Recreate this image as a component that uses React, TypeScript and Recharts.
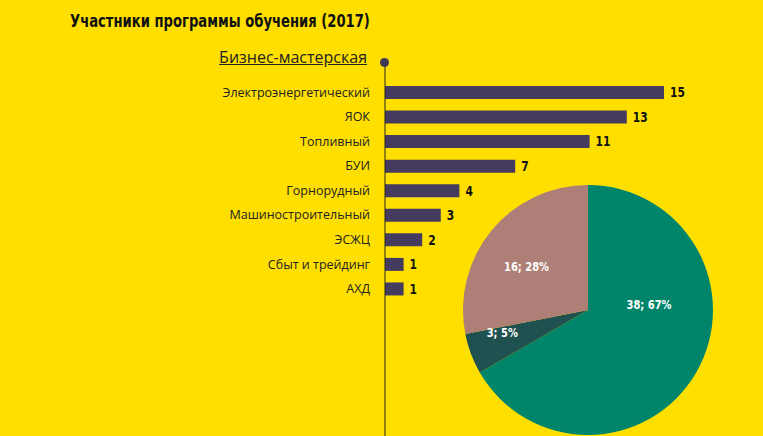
import React from 'react';
import { BarChart, Bar, XAxis, YAxis, LabelList, PieChart, Pie, Cell } from 'recharts';

const divisions = [
  'Электроэнергетический',
  'ЯОК',
  'Топливный',
  'БУИ',
  'Горнорудный',
  'Машиностроительный',
  'ЭСЖЦ',
  'Сбыт и трейдинг',
  'АХД',
];
const participants = [15, 13, 11, 7, 4, 3, 2, 1, 1];

const shareValues = [38, 3, 16];
const shareLabels = ['38; 67%', '3; 5%', '16; 28%'];
const shareColors = ['#00856A', '#1F5151', '#AE7F77'];

const barData = divisions.map((name, i) => ({ name, value: participants[i] }));
const pieData = shareValues.map((value, i) => ({ value, label: shareLabels[i] }));

const BG = '#FFDF00';
const BAR = '#453B5E';
const CONDENSED = '"DejaVu Sans Condensed", sans-serif';

// label placement inside slices: [angle in degrees, distance as fraction of radius]
const labelSpots: [number, number][] = [
  [5, 0.49],
  [-165, 0.71],
  [145, 0.6],
];

const renderPieLabel = (props: any) => {
  const { cx, cy, outerRadius, index } = props;
  const [deg, f] = labelSpots[index];
  const a = (deg * Math.PI) / 180;
  const x = cx + Math.cos(a) * outerRadius * f;
  const y = cy - Math.sin(a) * outerRadius * f;
  return (
    <text
      x={x}
      y={y}
      fill="#fff"
      textAnchor="middle"
      dominantBaseline="central"
      fontFamily={CONDENSED}
      fontWeight="bold"
      fontSize={13}
      transform={`translate(${x} ${y}) scale(0.85 1) translate(${-x} ${-y})`}
    >
      {pieData[index].label}
    </text>
  );
};

const renderValue = (props: any) => {
  const { x, y, width, height, value } = props;
  const tx = x + width + 6;
  const ty = y + height / 2;
  return (
    <text
      x={tx}
      y={ty}
      fill="#111"
      dominantBaseline="central"
      fontFamily={CONDENSED}
      fontWeight="bold"
      fontSize={14}
      transform={`translate(${tx} ${ty}) scale(0.85 1) translate(${-tx} ${-ty})`}
    >
      {value}
    </text>
  );
};

export default function App() {
  return (
    <div
      style={{
        position: 'absolute',
        top: 0,
        left: 0,
        width: 763,
        height: 436,
        background: BG,
        overflow: 'hidden',
      }}
    >
      <div
        style={{
          position: 'absolute',
          left: 70,
          top: 11,
          fontFamily: CONDENSED,
          fontWeight: 'bold',
          fontSize: 17,
          color: '#111',
          whiteSpace: 'nowrap',
          transform: 'scaleX(0.86)',
          transformOrigin: 'left top',
        }}
      >
        Участники программы обучения (2017)
      </div>
      <div
        style={{
          position: 'absolute',
          right: 763 - 367,
          top: 46,
          fontFamily: '"Open Sans", sans-serif',
          fontSize: 16,
          color: '#222',
          textDecoration: 'underline',
          whiteSpace: 'nowrap',
        }}
      >
        Бизнес-мастерская
      </div>
      <div style={{ position: 'absolute', left: 0, top: 0 }}>
        <BarChart
          width={763}
          height={436}
          layout="vertical"
          data={barData}
          margin={{ top: 62, right: 99, bottom: 0, left: 0 }}
        >
          <XAxis type="number" domain={[0, 15]} hide />
          <YAxis
            type="category"
            dataKey="name"
            width={385}
            tickSize={0}
            tickMargin={15}
            axisLine={{ stroke: '#222', strokeWidth: 1 }}
            padding={{ top: 18, bottom: 135 }}
            tick={{ fill: '#222', fontSize: 12.5, fontFamily: '"Open Sans", sans-serif' }}
            interval={0}
          />
          <Bar dataKey="value" fill={BAR} barSize={13} isAnimationActive={false}>
            <LabelList dataKey="value" content={renderValue} />
          </Bar>
        </BarChart>
      </div>
      <div
        style={{
          position: 'absolute',
          left: 380,
          top: 58,
          width: 9,
          height: 9,
          borderRadius: '50%',
          background: '#3E3654',
        }}
      />
      <div style={{ position: 'absolute', left: 0, top: 0 }}>
        <PieChart width={763} height={436} margin={{ top: 0, right: 0, bottom: 0, left: 0 }}>
          <Pie
            data={pieData}
            dataKey="value"
            cx={588}
            cy={310}
            outerRadius={125}
            startAngle={90}
            endAngle={-270}
            stroke="none"
            label={renderPieLabel}
            labelLine={false}
            isAnimationActive={false}
          >
            {pieData.map((_, i) => (
              <Cell key={i} fill={shareColors[i]} />
            ))}
          </Pie>
        </PieChart>
      </div>
    </div>
  );
}
